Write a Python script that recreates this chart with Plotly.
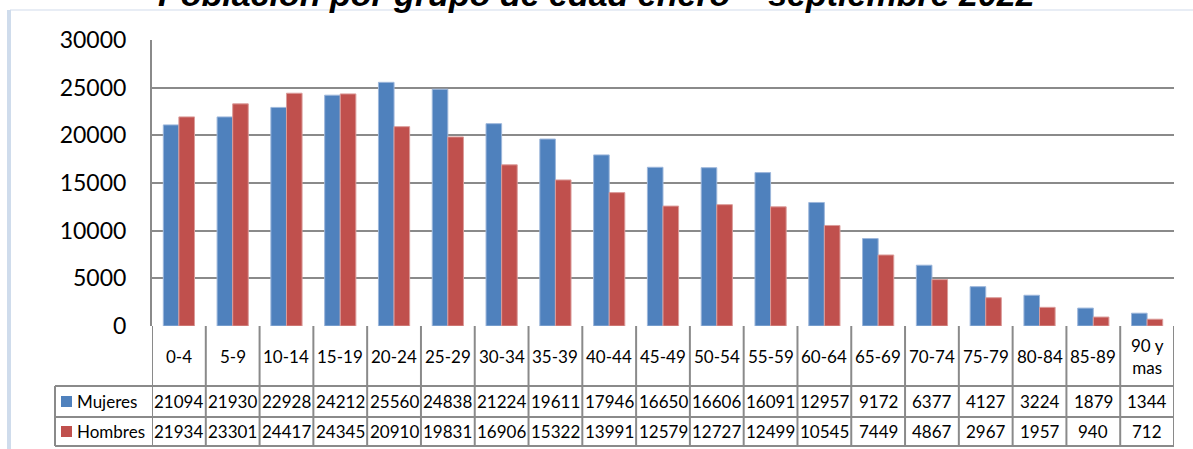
import plotly.graph_objects as go

categories = ["0-4", "5-9", "10-14", "15-19", "20-24", "25-29", "30-34", "35-39",
              "40-44", "45-49", "50-54", "55-59", "60-64", "65-69", "70-74",
              "75-79", "80-84", "85-89", "90 y<br>mas"]
mujeres = [21094, 21930, 22928, 24212, 25560, 24838, 21224, 19611, 17946, 16650,
           16606, 16091, 12957, 9172, 6377, 4127, 3224, 1879, 1344]
hombres = [21934, 23301, 24417, 24345, 20910, 19831, 16906, 15322, 13991, 12579,
           12727, 12499, 10545, 7449, 4867, 2967, 1957, 940, 712]
series_names = ["Mujeres", "Hombres"]
y_ticks = [0, 5000, 10000, 15000, 20000, 25000, 30000]
title_text = "Población por grupo de edad enero – septiembre 2022"

BLUE = "#4F81BD"
RED = "#C0504D"
GRID = "#8A8A8A"
FONT = "Lato"

W, H = 1193, 449
L, R, T, B = 152, 1174, 40, 326  # plot area in pixels


def py(pix):
    return (B - pix) / (B - T)


def px(pix):
    return (pix - L) / (R - L)


fig = go.Figure()
fig.add_trace(go.Bar(x=list(range(len(categories))), y=mujeres, name=series_names[0],
                     marker=dict(color=BLUE, line=dict(color="#9DB7DB", width=1))))
fig.add_trace(go.Bar(x=list(range(len(categories))), y=hombres, name=series_names[1],
                     marker=dict(color=RED, line=dict(color="#DB9C9A", width=1))))

n = len(categories)
shapes = []
annotations = []

# row boundaries (pixels)
row_cat = (326, 386)
row_m = (386, 417)
row_h = (417, 446)
table_left = 55

line = dict(color=GRID, width=2)
# vertical separators between categories through the whole table
for i in range(n + 1):
    shapes.append(dict(type="line", xref="x", yref="paper", x0=i - 0.5, x1=i - 0.5,
                       y0=py(row_cat[0]), y1=py(row_h[1]), line=line))
# horizontal lines
for yy in (row_m[0], row_h[0], row_h[1]):
    shapes.append(dict(type="line", xref="paper", yref="paper", x0=px(table_left), x1=px(R),
                       y0=py(yy), y1=py(yy), line=line))
# left border of legend rows
shapes.append(dict(type="line", xref="paper", yref="paper", x0=px(table_left), x1=px(table_left),
                   y0=py(row_m[0]), y1=py(row_h[1]), line=line))

TF = 17
# category labels
for i, c in enumerate(categories):
    annotations.append(dict(x=i, y=py((row_cat[0] + row_cat[1]) / 2), xref="x", yref="paper",
                            text=c, showarrow=False, font=dict(family=FONT, size=TF, color="black"),
                            xanchor="center", yanchor="middle"))
# values
for vals, row in ((mujeres, row_m), (hombres, row_h)):
    for i, v in enumerate(vals):
        annotations.append(dict(x=i, y=py((row[0] + row[1]) / 2), xref="x", yref="paper",
                                text=str(v), showarrow=False,
                                font=dict(family=FONT, size=TF, color="black"),
                                xanchor="center", yanchor="middle"))
# legend keys
for name, color, row in ((series_names[0], BLUE, row_m), (series_names[1], RED, row_h)):
    cy = (row[0] + row[1]) / 2
    shapes.append(dict(type="rect", xref="paper", yref="paper", x0=px(61), x1=px(72),
                       y0=py(cy + 5.5), y1=py(cy - 5.5), fillcolor=color, line=dict(width=0)))
    annotations.append(dict(x=px(75), y=py(cy), xref="paper", yref="paper", text=name,
                            showarrow=False, font=dict(family=FONT, size=TF, color="black"),
                            xanchor="left", yanchor="middle"))

# chart frame decorations
shapes.append(dict(type="line", xref="paper", yref="paper", x0=px(10), x1=px(W),
                   y0=py(10), y1=py(10), line=dict(color="#E8EDF5", width=2)))
shapes.append(dict(type="rect", xref="paper", yref="paper", x0=px(7), x1=px(11),
                   y0=py(10), y1=py(H), fillcolor="#CFDCEC", line=dict(width=0)))

# title (partially cut off at top, as in the reference)
annotations.append(dict(x=px(596), y=py(15), xref="paper", yref="paper",
                        text="<b><i>" + title_text + "</i></b>", showarrow=False,
                        font=dict(family="Liberation Sans", size=34, color="black"),
                        xanchor="center", yanchor="bottom"))

fig.update_layout(
    width=W, height=H,
    margin=dict(l=L, r=W - R, t=T, b=H - B, pad=0),
    paper_bgcolor="white", plot_bgcolor="white",
    barmode="group", bargap=0.42, bargroupgap=0,
    showlegend=False,
    shapes=shapes, annotations=annotations,
    xaxis=dict(range=[-0.5, n - 0.5], showticklabels=False, showgrid=False, zeroline=False,
               showline=False, ticks=""),
    yaxis=dict(range=[0, 30000], tickvals=y_ticks, ticktext=[str(v) for v in y_ticks],
               showgrid=True, gridcolor=GRID, gridwidth=2,
               zeroline=False, showline=True, linecolor=GRID, linewidth=2,
               ticks="", ticklabelstandoff=19,
               tickfont=dict(family=FONT, size=23, color="black")),
)
fig.write_html("out.html", config={"displayModeBar": False},
               post_script="document.body.style.margin='0';")
